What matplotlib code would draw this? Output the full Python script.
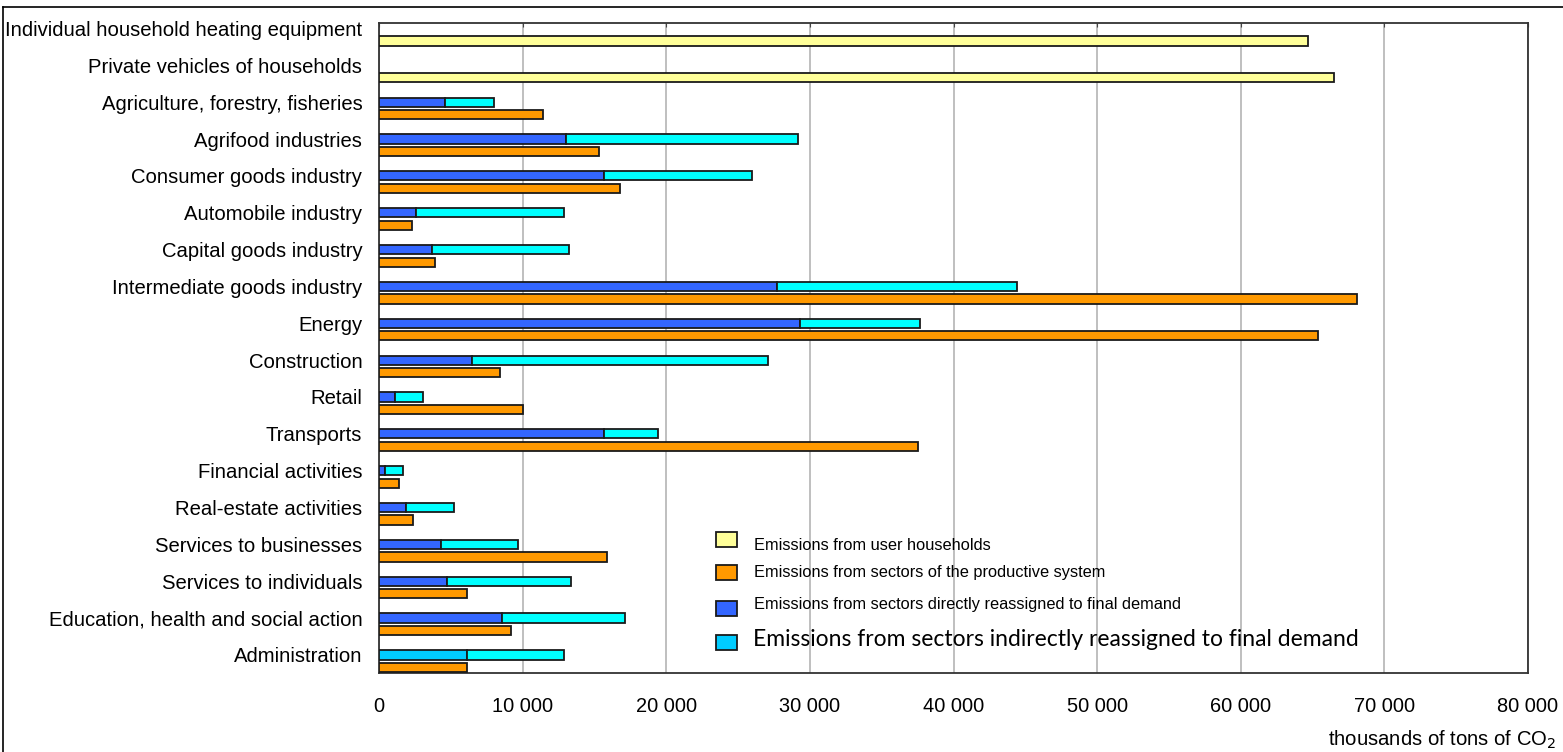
import matplotlib.pyplot as plt
import numpy as np
from matplotlib.patches import Rectangle
from matplotlib.lines import Line2D
from matplotlib.ticker import FuncFormatter

plt.rcParams['font.family'] = ['Liberation Sans', 'DejaVu Sans']

# Data (thousands of tons of CO2)
categories = [
    'Individual household heating equipment',
    'Private vehicles of households',
    'Agriculture, forestry, fisheries',
    'Agrifood industries',
    'Consumer goods industry',
    'Automobile industry',
    'Capital goods industry',
    'Intermediate goods industry',
    'Energy',
    'Construction',
    'Retail',
    'Transports',
    'Financial activities',
    'Real-estate activities',
    'Services to businesses',
    'Services to individuals',
    'Education, health and social action',
    'Administration',
]
user_households = [64700, 66500, 0, 0, 0, 0, 0, 0, 0, 0, 0, 0, 0, 0, 0, 0, 0, 0]
productive = [0, 0, 11400, 15300, 16800, 2300, 3900, 68100, 65400, 8400,
              10000, 37500, 1400, 2400, 15900, 6100, 9200, 6100]
direct = [0, 0, 4600, 13000, 15650, 2600, 3700, 27700, 29300, 6450,
          1100, 15650, 400, 1850, 4350, 4700, 8550, 6100]
indirect = [0, 0, 3400, 16200, 10350, 10300, 9550, 16700, 8400, 20650,
            1950, 3750, 1300, 3400, 5300, 8650, 8550, 6800]

legend_labels = [
    'Emissions from user households',
    'Emissions from sectors of the productive system',
    'Emissions from sectors directly reassigned to final demand',
    'Emissions from sectors indirectly reassigned to final demand',
]

c_yellow = '#FFFF99'
c_orange = '#FF9900'
c_blue = '#3366FF'
c_cyan = '#00FFFF'
c_lightblue = '#00CCFF'

W, H = 1563, 752
fig = plt.figure(figsize=(W / 100, H / 100), dpi=100)
ax = fig.add_axes([379 / W, 1 - 673 / H, (1528 - 379) / W, (673 - 22.7) / H])


def fx(px):
    return px / W


def fy(py):
    return 1 - py / H


y = np.arange(len(categories))
uh = np.array(user_households)
pr = np.array(productive)
di = np.array(direct)
ind = np.array(indirect)

h = 0.25
off = 0.34
edge = dict(edgecolor='#1a1a1a', linewidth=1.3)

m = uh > 0
ax.barh(y[m] + off, uh[m], height=h, color=c_yellow, **edge, zorder=3)
m = pr > 0
ax.barh(y[m] + off, pr[m], height=h, color=c_orange, **edge, zorder=3)
m = di > 0
# Administration: direct part is light blue in the source chart
dcol = [c_lightblue if i == len(categories) - 1 else c_blue for i in y[m]]
ax.barh(y[m], di[m], height=h, color=dcol, **edge, zorder=3)
ax.barh(y[m], ind[m], left=di[m], height=h, color=c_cyan, **edge, zorder=3)

ax.set_ylim(17.49, -0.157)
ax.set_xlim(0, 80000)
ax.set_yticks(y)
ax.set_yticklabels(categories, fontsize=14.6)
ax.tick_params(axis='y', length=0, pad=12)
ax.set_xticks(np.arange(0, 80001, 10000))
ax.xaxis.set_major_formatter(FuncFormatter(lambda v, p: f'{int(v):,}'.replace(',', ' ')))
ax.tick_params(axis='x', length=0, pad=17, labelsize=14.4)
ax.tick_params(axis='x', which='both', top=True, direction='in', length=3, color='#444')
ax.tick_params(axis='x', bottom=False)
ax.grid(axis='x', color='#b4b4b4', linewidth=1.2, zorder=0)
for s in ax.spines.values():
    s.set_color('#333333')
    s.set_linewidth(1.3)

fig.text(fx(1556), fy(740), 'thousands of tons of CO$_2$', ha='right', va='center',
         fontsize=14.6)

# legend drawn by hand to follow the uneven spacing of the original
leg_colors = [c_yellow, c_orange, c_blue, c_lightblue]
patch_y = [539, 572, 608, 642]
text_y = [546, 572, 605, 640]
for i, (c, lab) in enumerate(zip(leg_colors, legend_labels)):
    fig.add_artist(Rectangle((fx(716), fy(patch_y[i] + 7.5)), fx(21), 15 / H,
                             transform=fig.transFigure, facecolor=c,
                             edgecolor='#1a1a1a', linewidth=1.3))
    if i < 3:
        fig.text(fx(754), fy(text_y[i]), lab, va='center', ha='left', fontsize=11.8)
    else:
        fig.text(fx(753), fy(text_y[i]), lab, va='center', ha='left', fontsize=16.5,
                 family=['Lato', 'DejaVu Sans'])

# outer frame
fig.add_artist(Line2D([fx(3), fx(3)], [0, fy(7)], transform=fig.transFigure,
                      color='black', linewidth=1.2))
fig.add_artist(Line2D([fx(3), 1], [fy(7), fy(7)], transform=fig.transFigure,
                      color='black', linewidth=1.2))

fig.savefig('out.png', dpi=100)
